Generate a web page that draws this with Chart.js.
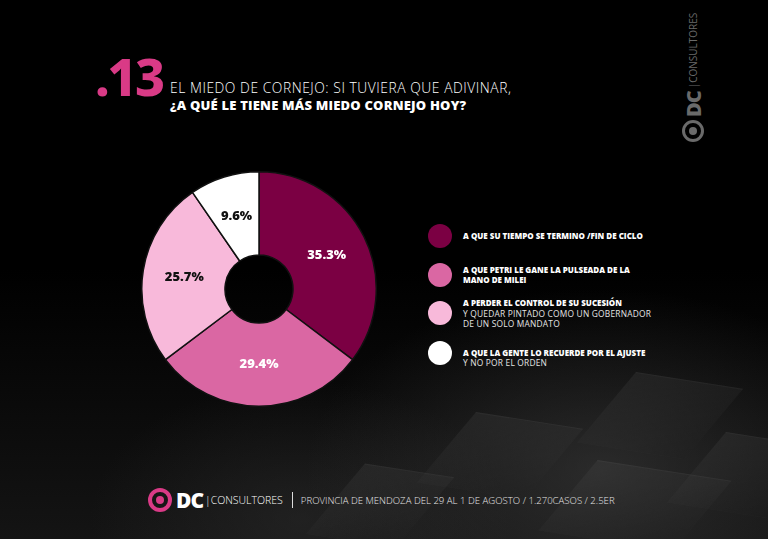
<!DOCTYPE html>
<html lang="es">
<head>
    <meta charset="UTF-8">
    <title>El miedo de Cornejo</title>
    <script src="https://cdn.jsdelivr.net/npm/chart.js"></script>
    <style>
        html, body { margin: 0; padding: 0; }
        body {
            width: 768px; height: 539px; overflow: hidden; position: relative;
            font-family: "Open Sans", sans-serif; color: #fff;
            background:
                radial-gradient(ellipse 420px 260px at 600px 470px, rgba(70,70,70,0.5), rgba(0,0,0,0) 70%),
                radial-gradient(ellipse 300px 200px at 300px 520px, rgba(50,50,50,0.45), rgba(0,0,0,0) 70%),
                linear-gradient(180deg, #000 0%, #000 50%, #141414 100%);
        }
        /* faint cube shapes in the background */
        .cube {
            position: absolute; width: 120px; height: 70px;
            transform: skewX(-35deg) rotate(8deg);
            background: linear-gradient(160deg, rgba(80,80,80,0.22), rgba(20,20,20,0.05));
            border-top: 1px solid rgba(130,130,130,0.15);
        }
        #num {
            position: absolute; left: 95px; top: 46px;
            font-family: "Noto Sans", sans-serif; font-weight: 800; font-size: 52px;
            color: #d93a86; letter-spacing: -2.5px; line-height: 60px;
        }
        #t1 {
            position: absolute; left: 170px; top: 80px; font-size: 13.8px; font-weight: 300;
            letter-spacing: 0.55px; white-space: nowrap; line-height: 15px;
        }
        #t2 {
            position: absolute; left: 170px; top: 98px; font-size: 13px; font-weight: 800;
            letter-spacing: 0.2px; white-space: nowrap; line-height: 14px;
        }
        #chartBox { position: absolute; left: 141px; top: 171px; width: 236px; height: 236px; }
        .item { position: absolute; left: 428px; }
        .dot { position: absolute; left: 0; width: 24px; height: 24px; border-radius: 50%; }
        .txt { position: absolute; left: 35px; font-size: 8px; line-height: 10.5px; white-space: nowrap; }
        .txt b { font-weight: 800; }
        .txt span { font-weight: 400; font-size: 8.4px; color: #e4e4e4; letter-spacing: 0.2px; }
        #sideLogo {
            position: absolute; left: 626px; top: 64px; width: 134px; height: 22px;
            transform: rotate(-90deg); transform-origin: center; color: #6a6a6a;
            white-space: nowrap; display: flex; align-items: center; gap: 3px;
        }
        .ring { display: inline-block; box-sizing: border-box; border-radius: 50%; }
        #footer { position: absolute; left: 148px; top: 488px; height: 24px; display: flex; align-items: center; white-space: nowrap; }
    </style>
</head>
<body>
    <div class="cube" style="left:440px;top:420px;"></div>
    <div class="cube" style="left:600px;top:380px;"></div>
    <div class="cube" style="left:560px;top:470px;width:150px;"></div>
    <div class="cube" style="left:690px;top:440px;"></div>
    <div class="cube" style="left:330px;top:470px;width:100px;"></div>

    <div id="num">.13</div>
    <div id="t1">EL MIEDO DE CORNEJO: SI TUVIERA QUE ADIVINAR,</div>
    <div id="t2">¿A QUÉ LE TIENE MÁS MIEDO CORNEJO HOY?</div>

    <div id="sideLogo">
        <span class="ring" style="width:22px;height:22px;border:3.5px solid #6a6a6a;position:relative;">
            <span class="ring" style="position:absolute;left:3.5px;top:3.5px;width:8px;height:8px;background:#6a6a6a;"></span>
        </span>
        <span style="font-family:'Noto Sans';font-weight:900;font-size:20px;letter-spacing:-1px;">DC</span>
        <span style="font-size:10px;font-weight:400;">|CONSULTORES</span>
    </div>

    <div id="chartBox"><canvas id="pie" width="236" height="236"></canvas></div>
    <div id="legend"></div>

    <div id="footer">
        <span class="ring" style="width:24px;height:24px;border:4px solid #d93a86;position:relative;">
            <span class="ring" style="position:absolute;left:4px;top:4px;width:8px;height:8px;background:#d93a86;"></span>
        </span>
        <span style="margin-left:4px;font-family:'Noto Sans';font-weight:900;font-size:21px;letter-spacing:-1px;">DC</span>
        <span style="margin-left:2px;font-size:10.5px;font-weight:300;">|CONSULTORES</span>
        <span style="margin-left:9px;width:1px;height:16px;background:#ddd;"></span>
        <span style="margin-left:8px;font-size:9.6px;font-weight:300;color:#e6e6e6;">PROVINCIA DE MENDOZA DEL 29 AL 1 DE AGOSTO / 1.270CASOS / 2.5ER</span>
    </div>

    <script>
        // Values
        const shares = [35.3, 29.4, 25.7, 9.6];
        const sliceColors = ['#7b0043', '#da67a3', '#f8b9da', '#ffffff'];
        const labelColors = ['#ffffff', '#ffffff', '#111111', '#111111'];
        const legendBold = [
            ['A QUE SU TIEMPO SE TERMINO /FIN DE CICLO'],
            ['A QUE PETRI LE GANE LA PULSEADA DE LA', 'MANO DE MILEI'],
            ['A PERDER EL CONTROL DE SU SUCESIÓN'],
            ['A QUE LA GENTE LO RECUERDE POR EL AJUSTE']
        ];
        const legendLight = [
            [],
            [],
            ['Y QUEDAR PINTADO COMO UN GOBERNADOR', 'DE UN SOLO MANDATO'],
            ['Y NO POR EL ORDEN']
        ];

        // Legend built from the arrays
        const legendTops = [224, 263, 301, 341];
        const textShift = [0, 0, 1, 5];
        const legend = document.getElementById('legend');
        shares.forEach((v, i) => {
            const item = document.createElement('div');
            item.className = 'item';
            item.style.top = legendTops[i] + 'px';
            const dot = document.createElement('div');
            dot.className = 'dot';
            dot.style.background = sliceColors[i];
            item.appendChild(dot);
            const txt = document.createElement('div');
            txt.className = 'txt';
            const lines = legendBold[i].length + legendLight[i].length;
            txt.style.top = (12 - lines * 5.25 + textShift[i]) + 'px';
            txt.innerHTML = legendBold[i].map(s => '<b>' + s + '</b>').join('<br>') +
                (legendLight[i].length ? '<br>' + legendLight[i].map(s => '<span>' + s + '</span>').join('<br>') : '');
            item.appendChild(txt);
            legend.appendChild(item);
        });

        // Percentage labels drawn inside each slice
        const sliceLabels = {
            id: 'sliceLabels',
            afterDatasetsDraw(chart) {
                const ctx = chart.ctx;
                const meta = chart.getDatasetMeta(0);
                ctx.save();
                ctx.font = '900 13px "Noto Sans", sans-serif';
                ctx.textAlign = 'center';
                ctx.textBaseline = 'middle';
                meta.data.forEach((arc, i) => {
                    const p = arc.getProps(['startAngle', 'endAngle', 'innerRadius', 'outerRadius', 'x', 'y'], true);
                    const mid = (p.startAngle + p.endAngle) / 2;
                    const r = p.innerRadius + (p.outerRadius - p.innerRadius) * 0.5;
                    ctx.fillStyle = labelColors[i];
                    ctx.fillText(shares[i].toFixed(1) + '%', p.x + Math.cos(mid) * r, p.y + Math.sin(mid) * r);
                });
                ctx.restore();
            }
        };

        new Chart(document.getElementById('pie').getContext('2d'), {
            type: 'doughnut',
            data: {
                labels: legendBold.map(l => l.join(' ')),
                datasets: [{
                    data: shares,
                    backgroundColor: sliceColors,
                    borderColor: '#111111',
                    borderWidth: 1.5
                }]
            },
            options: {
                responsive: false,
                animation: false,
                cutout: '29%',
                plugins: { legend: { display: false }, tooltip: { enabled: false } }
            },
            plugins: [sliceLabels]
        });
    </script>
</body>
</html>
